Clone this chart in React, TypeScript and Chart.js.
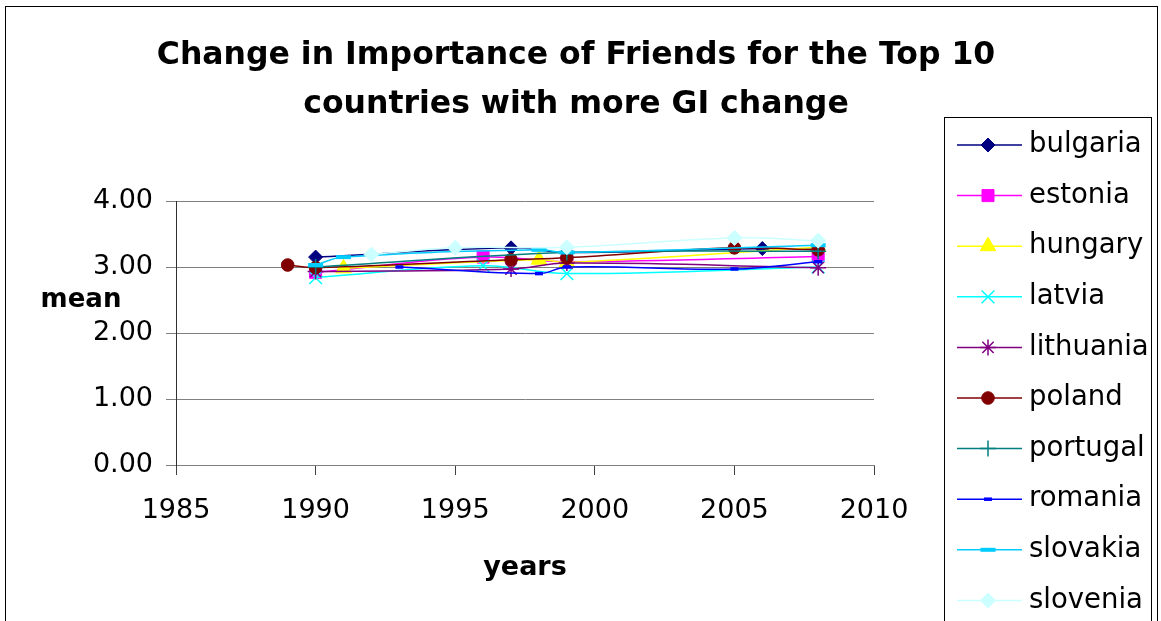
import React, { useEffect, useRef } from 'react';
import { Chart, registerables } from 'chart.js';
import { drawPoint } from 'chart.js/helpers';

Chart.register(...registerables);

const FONT = "'DejaVu Sans', 'Liberation Sans', sans-serif";

const TITLE_LINES = ['Change in Importance of Friends for the Top 10', 'countries with more GI change'];
const X_TITLE = 'years';
const Y_TITLE = 'mean';

const xTickValues = [1985, 1990, 1995, 2000, 2005, 2010];
const yTickValues = [0, 1, 2, 3, 4];

const countries = ['bulgaria', 'estonia', 'hungary', 'latvia', 'lithuania', 'poland', 'portugal', 'romania', 'slovakia', 'slovenia'];

const bulgariaYears = [1990, 1997, 1999, 2006, 2008];
const bulgariaMeans = [3.15, 3.29, 3.22, 3.28, 3.27];

const estoniaYears = [1990, 1996, 1999, 2008];
const estoniaMeans = [2.92, 3.15, 3.08, 3.16];

const hungaryYears = [1991, 1998, 1999, 2008];
const hungaryMeans = [2.98, 3.11, 3.07, 3.3];

const latviaYears = [1990, 1996, 1999, 2008];
const latviaMeans = [2.84, 3.02, 2.9, 3.0];

const lithuaniaYears = [1990, 1997, 1999, 2008];
const lithuaniaMeans = [2.93, 2.97, 3.06, 2.99];

const polandYears = [1989, 1990, 1997, 1999, 2005, 2008];
const polandMeans = [3.03, 2.99, 3.11, 3.14, 3.29, 3.26];

const portugalYears = [1990, 1999, 2008];
const portugalMeans = [3.0, 3.22, 3.24];

const romaniaYears = [1993, 1998, 1999, 2005, 2008];
const romaniaMeans = [3.0, 2.9, 3.0, 2.97, 3.08];

const slovakiaYears = [1990, 1991, 1998, 1999, 2008];
const slovakiaMeans = [3.03, 3.15, 3.26, 3.22, 3.33];

const sloveniaYears = [1992, 1995, 1999, 2005, 2008];
const sloveniaMeans = [3.19, 3.29, 3.3, 3.44, 3.4];

const seriesYears = [bulgariaYears, estoniaYears, hungaryYears, latviaYears, lithuaniaYears, polandYears, portugalYears, romaniaYears, slovakiaYears, sloveniaYears];
const seriesMeans = [bulgariaMeans, estoniaMeans, hungaryMeans, latviaMeans, lithuaniaMeans, polandMeans, portugalMeans, romaniaMeans, slovakiaMeans, sloveniaMeans];

const lineColors = ['#000080', '#FF00FF', '#FFFF00', '#00FFFF', '#800080', '#800000', '#008080', '#0000FF', '#00CCFF', '#CCFFFF'];
const markerStyles = ['rectRot', 'rect', 'triangle', 'crossRot', 'star', 'circle', 'cross', 'line', 'line', 'rectRot'];
const markerRadii = [7, 8.5, 9, 9, 8, 6.3, 8, 4, 7.5, 7.5];
const markerBorders = [1, 1, 1, 1.5, 1.5, 1, 1.5, 3.5, 4, 1];

const decorPlugin = {
  id: 'decor',
  afterDraw(chart: any) {
    const ctx: CanvasRenderingContext2D = chart.ctx;
    ctx.save();
    ctx.strokeStyle = '#000';
    ctx.lineWidth = 1;
    ctx.strokeRect(5.5, 6.5, 1152, 700);

    ctx.fillStyle = '#000';
    ctx.textAlign = 'center';
    ctx.textBaseline = 'middle';
    ctx.font = `bold 31.5px ${FONT}`;
    TITLE_LINES.forEach((t, i) => ctx.fillText(t, 576, 56 + i * 49));

    ctx.font = `bold 26px ${FONT}`;
    ctx.fillText(Y_TITLE, 81, 300);

    ctx.strokeStyle = '#000';
    ctx.lineWidth = 1;
    ctx.strokeRect(944.5, 117.5, 207, 600);

    chart.data.datasets.forEach((ds: any, i: number) => {
      const y = 145 + i * 50.6;
      ctx.strokeStyle = ds.borderColor;
      ctx.lineWidth = ds.borderWidth;
      ctx.beginPath();
      ctx.moveTo(957, y);
      ctx.lineTo(1022, y);
      ctx.stroke();
      ctx.fillStyle = ds.pointBackgroundColor;
      ctx.strokeStyle = ds.pointBorderColor;
      ctx.lineWidth = ds.pointBorderWidth;
      drawPoint(ctx, { pointStyle: ds.pointStyle, radius: ds.pointRadius, borderWidth: ds.pointBorderWidth, rotation: 0 } as any, 988, y);
      ctx.fillStyle = '#000';
      ctx.font = `27.5px ${FONT}`;
      ctx.textAlign = 'left';
      ctx.textBaseline = 'middle';
      ctx.fillText(ds.label, 1029, y);
    });
    ctx.restore();
  },
};

export default function App() {
  const ref = useRef<HTMLCanvasElement>(null);
  useEffect(() => {
    if (!ref.current) return;
    Chart.defaults.font.family = FONT;
    Chart.defaults.color = '#000';
    const datasets = countries.map((name, i) => ({
      label: name,
      data: seriesYears[i].map((x, j) => ({ x, y: seriesMeans[i][j] })),
      borderColor: lineColors[i],
      backgroundColor: lineColors[i],
      borderWidth: 1.5,
      pointStyle: markerStyles[i],
      pointRadius: markerRadii[i],
      pointBackgroundColor: lineColors[i],
      pointBorderColor: lineColors[i],
      pointBorderWidth: markerBorders[i],
      tension: 0.4,
      fill: false,
      order: countries.length - 1 - i,
    }));
    const chart = new Chart(ref.current, {
      type: 'line',
      data: { datasets },
      options: {
        animation: false,
        responsive: false,
        maintainAspectRatio: false,
        devicePixelRatio: 1,
        events: [],
        layout: { padding: { top: 201, right: 287, bottom: 0, left: 0 } },
        plugins: { legend: { display: false }, title: { display: false }, tooltip: { enabled: false } },
        scales: {
          x: {
            type: 'linear',
            min: 1985,
            max: 2010,
            afterBuildTicks: (s: any) => { s.ticks = xTickValues.map((v) => ({ value: v })); },
            afterFit: (s: any) => { s.height = 156; },
            ticks: { callback: (v: any) => String(v), padding: 20, font: { size: 27 }, color: '#000', maxRotation: 0, autoSkip: false },
            grid: { drawOnChartArea: false, drawTicks: true, tickLength: 10, color: '#404040', lineWidth: 1 },
            border: { color: '#808080', width: 1 },
            title: { display: true, text: X_TITLE, font: { size: 27, weight: 'bold' }, color: '#000', padding: { top: 0, bottom: 37 } },
          },
          y: {
            type: 'linear',
            min: 0,
            max: 4,
            afterBuildTicks: (s: any) => { s.ticks = yTickValues.map((v) => ({ value: v })); },
            afterFit: (s: any) => { s.width = 176; },
            ticks: { callback: (v: any) => Number(v).toFixed(2), padding: 13, font: { size: 27 }, color: '#000' },
            grid: { color: '#808080', lineWidth: 1, tickLength: 10, drawTicks: true },
            border: { color: '#303030', width: 1 },
          },
        },
      },
      plugins: [decorPlugin],
    } as any);
    return () => chart.destroy();
  }, []);
  return (
    <div style={{ position: 'absolute', left: 0, top: 0, width: 1161, height: 621, background: '#fff' }}>
      <canvas ref={ref} width={1161} height={621} style={{ display: 'block' }} />
    </div>
  );
}
